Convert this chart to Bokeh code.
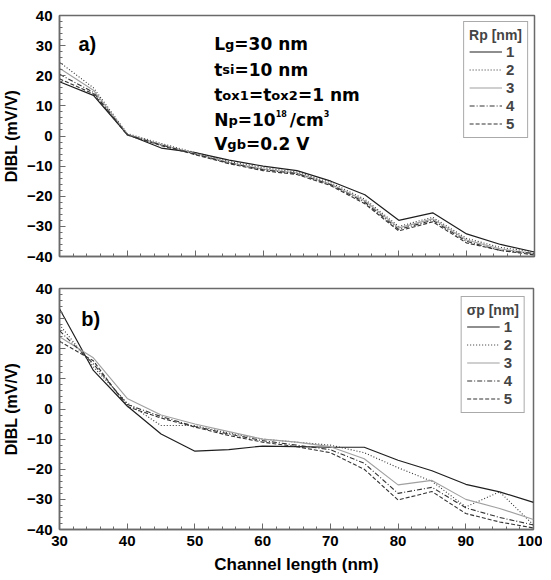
from bokeh.plotting import figure
from bokeh.models import Range1d, SingleIntervalTicker, Label, Legend, LegendItem
from bokeh.layouts import column
from bokeh.embed import file_html
from bokeh.resources import INLINE

# ---------------- data ----------------
channel_length = [30, 35, 40, 45, 50, 55, 60, 65, 70, 75, 80, 85, 90, 95, 100]

rp_labels = ["1", "2", "3", "4", "5"]
rp1 = [18.0, 13.5, 0.5, -4.0, -5.5, -8.0, -10.0, -11.5, -15.0, -19.5, -28.0, -25.5, -32.5, -36.0, -38.5]
rp2 = [24.5, 16.0, 0.8, -2.5, -5.5, -8.5, -10.5, -12.0, -15.5, -21.0, -30.0, -27.0, -34.0, -37.0, -38.5]
rp3 = [22.5, 15.2, 0.6, -2.8, -5.8, -8.8, -11.0, -12.3, -16.0, -21.5, -30.5, -27.5, -34.5, -37.5, -39.0]
rp4 = [20.5, 14.5, 0.4, -3.0, -6.0, -9.0, -11.2, -12.5, -16.2, -22.0, -31.0, -28.0, -35.0, -38.0, -39.0]
rp5 = [19.0, 14.0, 0.3, -3.2, -6.2, -9.2, -11.5, -12.8, -16.5, -22.5, -31.5, -28.5, -35.5, -38.0, -39.5]

sp_labels = ["1", "2", "3", "4", "5"]
sp1 = [33.3, 12.8, 1.0, -8.3, -14.0, -13.5, -12.3, -12.5, -12.7, -12.7, -17.0, -20.5, -25.0, -27.5, -31.0]
sp2 = [28.0, 14.0, 2.0, -5.5, -5.5, -8.0, -10.0, -11.0, -12.0, -14.5, -19.5, -24.0, -32.5, -27.5, -38.5]
sp3 = [24.0, 17.0, 3.5, -2.0, -5.0, -7.5, -10.0, -11.0, -12.5, -16.5, -25.2, -23.7, -30.0, -33.0, -36.7]
sp4 = [26.0, 15.0, 1.5, -2.5, -5.8, -8.3, -10.5, -12.0, -13.5, -18.0, -28.0, -26.0, -32.8, -36.0, -38.5]
sp5 = [22.5, 16.0, 0.8, -3.0, -6.0, -8.8, -11.0, -12.5, -14.5, -20.0, -30.2, -27.4, -34.7, -37.5, -39.5]

x_ticks = [30, 40, 50, 60, 70, 80, 90, 100]

# ---------------- styling ----------------
FONT = "Liberation Sans"
ANN_FONT = "DejaVu Sans"
AX = "#6a6a6a"
STYLES = [
    dict(line_color="#1e1e1e", line_dash="solid", line_width=1.2),
    dict(line_color="#333333", line_dash="1 2", line_width=1.1),
    dict(line_color="#a0a0a0", line_dash="solid", line_width=1.1),
    dict(line_color="#333333", line_dash="5 2 1 2", line_width=1.1),
    dict(line_color="#333333", line_dash="4 2", line_width=1.1),
]

# DejaVu Sans Bold advance widths (per 1000 em)
W = {"L": 637, "g": 716, "=": 838, "3": 696, "0": 696, "1": 696, "2": 696, "8": 696,
     " ": 348, "n": 712, "m": 1042, "t": 478, "s": 595, "i": 343, "o": 687, "x": 663,
     "N": 837, "p": 716, "/": 365, "c": 593, "V": 774, "b": 716, ".": 380}


def text_width(t, size):
    return sum(W.get(ch, 650) for ch in t) * size / 1000.0


def make_fig(frame_w, left, right, top, bottom, show_x):
    p = figure(frame_width=frame_w, frame_height=241,
               x_range=Range1d(30, 100), y_range=Range1d(-40, 40),
               output_backend="svg", toolbar_location=None,
               min_border_left=left, min_border_right=right,
               min_border_top=top, min_border_bottom=bottom,
               background_fill_color="white", border_fill_color="white")
    p.grid.visible = False
    p.outline_line_color = AX
    p.outline_line_width = 1.5
    for ax in (p.xaxis[0], p.yaxis[0]):
        ax.ticker = SingleIntervalTicker(interval=10, num_minor_ticks=5)
        ax.axis_line_color = AX
        ax.axis_line_width = 1.5
        ax.major_tick_line_color = AX
        ax.minor_tick_line_color = AX
        ax.major_tick_in = 6
        ax.major_tick_out = 0
        ax.minor_tick_in = 3
        ax.minor_tick_out = 0
        ax.major_label_text_font = FONT
        ax.major_label_text_font_style = "bold"
        ax.major_label_text_font_size = "15px"
        ax.major_label_text_color = "black"
        ax.axis_label_text_font = FONT
        ax.axis_label_text_font_style = "bold"
        ax.axis_label_text_color = "black"
    p.yaxis.axis_label = "DIBL (mV/V)"
    p.yaxis.axis_label_text_font_size = "16px"
    p.yaxis.major_label_standoff = 7
    p.yaxis.axis_label_standoff = 4
    if show_x:
        p.xaxis.axis_label = "Channel length (nm)"
        p.xaxis.axis_label_text_font_size = "17px"
        p.xaxis.major_label_standoff = 6
        p.xaxis.axis_label_standoff = 6
    else:
        p.xaxis.major_label_overrides = {t: "" for t in x_ticks}
        p.xaxis.major_label_text_font_size = "1px"
    return p


def add_series(p, series, labels, title, margin):
    items = []
    for ys, lab, st in zip(series, labels, STYLES):
        r = p.line(channel_length, ys, **st)
        items.append(LegendItem(label=lab, renderers=[r]))
    leg = Legend(items=items, title=title, location="top_right")
    leg.margin = margin
    leg.padding = 5
    leg.spacing = 1
    leg.glyph_width = 33
    leg.glyph_height = 17
    leg.label_height = 17
    leg.label_width = 0
    leg.label_standoff = 4
    leg.label_text_font = FONT
    leg.label_text_font_style = "bold"
    leg.label_text_font_size = "15px"
    leg.title_text_font = FONT
    leg.title_text_font_style = "bold"
    leg.title_text_font_size = "14px"
    leg.title_standoff = 0
    leg.border_line_color = "#555555"
    leg.border_line_width = 1.5
    leg.background_fill_color = "white"
    leg.background_fill_alpha = 1.0
    p.add_layout(leg)


def put(p, x, y, segs):
    off = 0.0
    for txt, size, dy, gap in segs:
        off += gap
        p.add_layout(Label(x=x, y=y, x_offset=off, y_offset=dy, text=txt,
                           text_font=ANN_FONT, text_font_style="bold",
                           text_font_size=f"{size}px", text_color="black",
                           text_baseline="alphabetic", text_align="left"))
        off += text_width(txt, size)


# ---------------- top panel ----------------
p1 = make_fig(475, 54, 6, 15, 12, False)
add_series(p1, [rp1, rp2, rp3, rp4, rp5], rp_labels, "Rp [nm]", 6)
p1.add_layout(Label(x=32.8, y=30.4, text="a)", text_font=FONT, text_font_style="bold",
                    text_font_size="20px", text_color="black", text_baseline="alphabetic"))
M, S, U = 17, 13, 8
put(p1, 52.8, 30.4, [("L", M, 0, 0), ("g", S, 0, 0), ("=30 nm", M, 0, 0)])
put(p1, 52.8, 22.0, [("t", M, 0, 0), ("si", S, 0, 0), ("=10 nm", M, 0, 0)])
put(p1, 52.8, 13.6, [("t", M, 0, 0), ("ox1", S, 0, 0), ("=t", M, 0, 0), ("ox2", S, 0, 0), ("=1 nm", M, 0, 0)])
put(p1, 52.8, 5.3, [("N", M, 0, 0), ("p", S, 0, 0), ("=10", M, 0, 0), ("18", U, 7, 0),
                    ("/cm", M, 0, 3), ("3", U, 7, 0)])
put(p1, 52.8, -2.8, [("V", M, 0, 0), ("gb", S, 0, 0), ("=0.2 V", M, 0, 0)])

# ---------------- bottom panel ----------------
p2 = make_fig(474, 52, 9, 20, 44, True)
add_series(p2, [sp1, sp2, sp3, sp4, sp5], sp_labels, "σp [nm]", 8)
p2.add_layout(Label(x=33.2, y=30.0, text="b)", text_font=FONT, text_font_style="bold",
                    text_font_size="20px", text_color="black", text_baseline="alphabetic"))

layout = column(p1, p2, spacing=0)
open("out.html", "w").write(file_html(layout, INLINE))
